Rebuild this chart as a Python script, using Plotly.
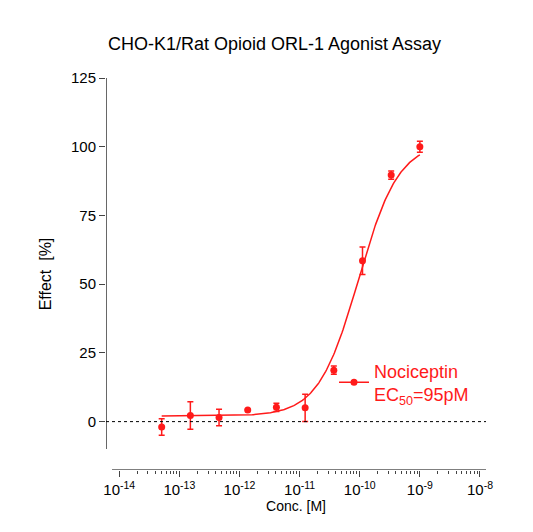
import numpy as np
import plotly.graph_objects as go

log_conc = [-13.294, -12.817, -12.34, -11.863, -11.386, -10.908, -10.431, -9.954, -9.477, -9.0]
effect = [-2.0, 2.2, 1.5, 4.2, 5.2, 5.0, 18.7, 58.5, 89.7, 100.0]
err = [3.0, 5.0, 3.0, 0.0, 1.5, 5.0, 1.5, 5.0, 1.5, 2.0]
bottom, top, log_ec50, hill = 2.0, 101.5, -10.02, 1.3
red = "#ff1a1a"

xc = np.linspace(-13.294, -9.0, 300)
yc = bottom + (top - bottom) / (1 + 10 ** ((log_ec50 - xc) * hill))

fig = go.Figure()
fig.add_trace(go.Scatter(x=xc, y=yc, mode="lines", line=dict(color=red, width=1.5), showlegend=False))
fig.add_trace(go.Scatter(x=log_conc, y=effect, mode="markers", marker=dict(color=red, size=7),
                         error_y=dict(type="data", array=err, color=red, thickness=1.5, width=3),
                         showlegend=False))
fig.add_trace(go.Scatter(x=[None], y=[None], mode="lines+markers", marker=dict(color=red, size=7),
                         line=dict(color=red, width=1.5), name="Nociceptin<br>EC<sub>50</sub>=95pM"))

xmin, xmax = -14.22, -7.9
ymin = -17.6
fig.add_shape(type="line", x0=xmin, x1=xmax, y0=0, y1=0, line=dict(color="black", width=1, dash="dot"))
fig.add_shape(type="line", x0=xmin, x1=xmin, y0=-10, y1=125, line=dict(color="black", width=1.2))
fig.add_shape(type="line", x0=-14.12, x1=xmax, y0=ymin, y1=ymin, line=dict(color="black", width=1.2))

majors = list(range(-14, -7))
minors = [m + np.log10(k) for m in range(-14, -8) for k in range(2, 10)]
fig.update_layout(
    width=533, height=532, plot_bgcolor="white", paper_bgcolor="white",
    margin=dict(l=98, r=55, t=70, b=70),
    font=dict(family="Liberation Sans, Arial", size=15, color="black"),
    title=dict(text="CHO-K1/Rat Opioid ORL-1 Agonist Assay", x=0.5, xanchor="center", y=0.945, font=dict(size=18)),
    xaxis=dict(range=[xmin, xmax], tickvals=majors, ticktext=[f"10<sup>{m}</sup>" for m in majors],
               ticks="outside", ticklen=6, showgrid=False, zeroline=False, showline=False,
               minor=dict(tickvals=minors, ticks="outside", ticklen=3),
               title=dict(text="Conc. [M]", standoff=2, font=dict(size=14))),
    yaxis=dict(range=[ymin, 125], tickvals=[0, 25, 50, 75, 100, 125], ticks="outside", ticklen=6,
               showgrid=False, zeroline=False, showline=False,
               title=dict(text="Effect  [%]", font=dict(size=16))),
    legend=dict(x=0.6, y=0.3, xanchor="left", yanchor="top", font=dict(color=red, size=18),
                bgcolor="rgba(0,0,0,0)"),
)
fig.write_html("out.html")
